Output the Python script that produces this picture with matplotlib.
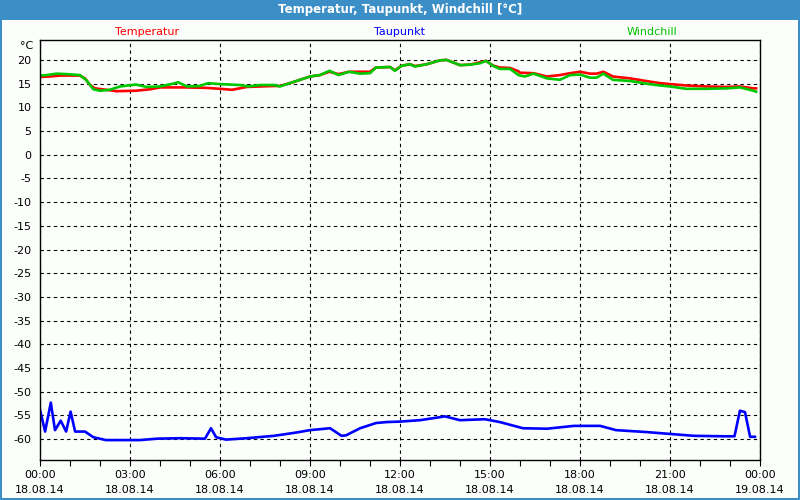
import matplotlib
matplotlib.use("Agg")
import matplotlib.pyplot as plt
from matplotlib.patches import Rectangle
from matplotlib.ticker import MultipleLocator

# hours since 18.08.14 00:00
temp_h = [0, 0.33, 0.67, 1.33, 1.5, 1.67, 1.83, 2.2, 2.55, 3.2, 3.67, 4, 4.8, 5.55, 6, 6.4,
          6.9, 7.8, 8, 8.33, 8.67, 9, 9.33, 9.65, 9.95, 10.3, 10.67, 11, 11.2, 11.67, 11.83,
          12.05, 12.33, 12.5, 12.9, 13.33, 13.55, 14, 14.33, 14.67, 14.87, 15.1, 15.33, 15.67,
          15.95, 16, 16.45, 16.9, 17.33, 17.67, 18, 18.33, 18.55, 18.78, 19.1, 19.67, 20.2,
          20.67, 21, 21.55, 22.2, 22.9, 23.33, 23.78, 23.87]
temp = [16.4, 16.5, 16.7, 16.7, 16.1, 14.7, 14.0, 13.7, 13.4, 13.5, 13.8, 14.2, 14.2, 14.1,
        13.9, 13.7, 14.3, 14.5, 14.5, 15.1, 15.8, 16.5, 16.8, 17.5, 17.0, 17.5, 17.5, 17.5,
        18.4, 18.5, 17.8, 18.75, 19.1, 18.7, 19.1, 19.9, 20.0, 18.9, 19.0, 19.5, 19.8, 18.8,
        18.4, 18.3, 17.6, 17.3, 17.2, 16.5, 16.8, 17.2, 17.5, 17.1, 17.1, 17.5, 16.5, 16.1,
        15.55, 15.1, 14.9, 14.6, 14.4, 14.3, 14.4, 14.0, 14.0]

wind_h = [0, 0.22, 0.55, 0.9, 1.33, 1.55, 1.78, 2, 2.33, 2.67, 3.2, 3.55, 4, 4.45, 4.6, 4.9,
          5.33, 5.6, 6, 6.67, 6.95, 7.33, 7.8, 8, 8.33, 8.67, 9, 9.33, 9.65, 9.95, 10.3, 10.67,
          11, 11.2, 11.67, 11.83, 12.05, 12.33, 12.5, 12.9, 13.33, 13.55, 14, 14.33, 14.67,
          14.87, 15.1, 15.33, 15.67, 15.95, 16, 16.17, 16.45, 16.9, 17.33, 17.67, 18, 18.33,
          18.55, 18.78, 19.1, 19.67, 20.2, 20.67, 21, 21.55, 22.2, 22.9, 23.33, 23.78, 23.87]
wind = [16.7, 16.8, 17.1, 17.0, 16.8, 15.7, 13.8, 13.5, 13.7, 14.4, 14.8, 14.3, 14.4, 15.0,
        15.3, 14.4, 14.5, 15.1, 14.9, 14.7, 14.4, 14.7, 14.7, 14.4, 15.1, 15.8, 16.5, 16.8,
        17.7, 16.8, 17.5, 17.1, 17.2, 18.4, 18.5, 17.7, 18.75, 19.1, 18.6, 19.1, 19.9, 20.0,
        18.9, 19.0, 19.3, 19.8, 18.75, 18.1, 18.1, 16.8, 16.7, 16.5, 17.1, 16.1, 15.8, 16.8,
        16.9, 16.25, 16.25, 17.1, 15.8, 15.55, 15.0, 14.6, 14.4, 13.9, 13.9, 14.0, 14.2,
        13.5, 13.3]

dew_h = [0, 0.17, 0.36, 0.5, 0.69, 0.87, 1.02, 1.17, 1.5, 1.78, 2.2, 3, 3.33, 3.9, 4.67, 5.5,
         5.7, 5.87, 6.2, 6.9, 7.8, 8.55, 9, 9.67, 10.05, 10.2, 10.67, 11.2, 11.55, 12, 12.67,
         13.5, 14, 14.83, 15.33, 16.1, 16.9, 17.8, 18.67, 19.2, 20.2, 21, 21.8, 22.8, 23.15,
         23.33, 23.5, 23.67, 23.83]
dew = [-53.8, -58.4, -52.3, -58.1, -56.1, -58.4, -54.2, -58.4, -58.4, -59.6, -60.2, -60.2,
       -60.2, -59.9, -59.8, -59.9, -57.7, -59.6, -60.1, -59.8, -59.3, -58.6, -58.1, -57.7,
       -59.3, -59.2, -57.7, -56.6, -56.4, -56.3, -56.0, -55.2, -56.0, -55.8, -56.4, -57.7,
       -57.8, -57.2, -57.2, -58.1, -58.5, -58.9, -59.3, -59.4, -59.4, -54.0, -54.3, -59.5,
       -59.5]

tick_hours = [0, 3, 6, 9, 12, 15, 18, 21, 24]
tick_labels = ["00:00\n18.08.14", "03:00\n18.08.14", "06:00\n18.08.14", "09:00\n18.08.14",
               "12:00\n18.08.14", "15:00\n18.08.14", "18:00\n18.08.14", "21:00\n18.08.14",
               "00:00\n19.08.14"]
y_ticks = list(range(-60, 21, 5))

BG = "#fbfefb"
BAR = "#3c8fc6"
plt.rcParams["font.family"] = ["DejaVu Sans"]

fig = plt.figure(figsize=(8, 5), dpi=100, facecolor=BG)
fig.patches.append(Rectangle((0, 0.96), 1, 0.04, transform=fig.transFigure,
                             facecolor=BAR, edgecolor="none", zorder=0))
for r in [(0, 0, 0.0025, 1), (0.9975, 0, 0.0025, 1), (0, 0, 1, 0.004)]:
    fig.patches.append(Rectangle(r[:2], r[2], r[3], transform=fig.transFigure,
                                 facecolor=BAR, edgecolor="none", zorder=0))
fig.text(0.5, 0.98, "Temperatur, Taupunkt, Windchill [°C]", color="white",
         fontsize=8.5, fontweight="bold", ha="center", va="center")
fig.text(147 / 800, 1 - 32 / 500, "Temperatur", color="#ff0000", fontsize=8, ha="center", va="center")
fig.text(399 / 800, 1 - 32 / 500, "Taupunkt", color="#0000ff", fontsize=8, ha="center", va="center")
fig.text(652 / 800, 1 - 32 / 500, "Windchill", color="#00c000", fontsize=8, ha="center", va="center")
fig.text(33 / 800, 1 - 46 / 500, "°C", color="black", fontsize=8, ha="right", va="center")

ax = fig.add_axes([0.05, 0.08, 0.9, 0.84], facecolor=BG)
ax.plot(temp_h, temp, color="#ff0000", lw=1.9)
ax.plot(wind_h, wind, color="#00c800", lw=1.9)
ax.plot(dew_h, dew, color="#0000ff", lw=1.9)

ax.set_xlim(0, 24)
ax.set_ylim(-64.4, 24.2)
ax.set_xticks(tick_hours)
ax.set_xticklabels(tick_labels, fontsize=8, linespacing=1.6)
ax.xaxis.set_minor_locator(MultipleLocator(1))
ax.set_yticks(y_ticks)
ax.set_yticklabels([str(v) for v in y_ticks], fontsize=8)
ax.tick_params(axis="x", which="both", direction="out", length=4, width=0.8, pad=3)
ax.tick_params(axis="y", length=0, pad=6)
ax.grid(True, which="major", color="black", linestyle=(0, (3, 3)), linewidth=0.8)
for s in ax.spines.values():
    s.set_linewidth(1)
    s.set_color("black")

fig.savefig("out.png", dpi=100, facecolor=BG)
